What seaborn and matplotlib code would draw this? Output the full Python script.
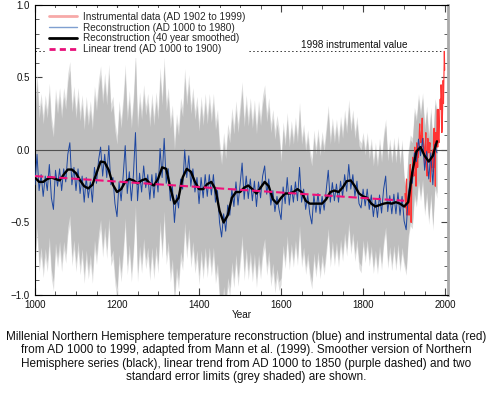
import numpy as np
import matplotlib
matplotlib.use("Agg")
import matplotlib.pyplot as plt
from matplotlib.lines import Line2D
from matplotlib.ticker import MultipleLocator
import seaborn as sns

# reconstruction, 5-year steps AD 1000-1980
recon_years = np.arange(1000, 1981, 5)
recon_values = [
    -0.24, -0.03, -0.28, -0.17, -0.32, -0.18, -0.28, -0.10, -0.33, -0.41,
    -0.14, -0.25, -0.13, -0.28, -0.13, -0.22, -0.03, 0.05, -0.24, -0.12,
    -0.28, -0.13, -0.30, -0.18, -0.36, -0.19, -0.33, -0.22, -0.36, -0.12,
    -0.23, -0.07, 0.02, -0.18, -0.03, -0.19, 0.03, -0.24, -0.19, -0.37,
    -0.46, -0.22, -0.35, -0.18, 0.03, -0.30, -0.15, -0.35, -0.17, 0.12,
    -0.35, -0.16, -0.29, -0.11, -0.26, -0.17, -0.34, -0.17, -0.33, -0.16,
    -0.29, 0.01, -0.19, 0.08, -0.23, -0.13, -0.35, -0.25, -0.50, -0.31,
    -0.40, -0.20, -0.27, 0.00, -0.19, -0.04, -0.25, -0.13, -0.29, -0.19,
    -0.37, -0.19, -0.33, -0.17, -0.32, -0.17, -0.31, -0.17, -0.36, -0.28,
    -0.50, -0.60, -0.44, -0.56, -0.38, -0.45, -0.27, -0.39, -0.22, -0.38,
    -0.24, -0.09, -0.34, -0.18, -0.335, -0.20, -0.35, -0.215, -0.39, -0.22,
    -0.33, -0.18, -0.11, -0.305, -0.20, -0.38, -0.28, -0.425, -0.32, -0.41,
    -0.48, -0.255, -0.37, -0.19, -0.38, -0.245, -0.36, -0.22, -0.35, -0.12,
    -0.36, -0.27, -0.41, -0.31, -0.44, -0.51, -0.31, -0.43, -0.30, -0.44,
    -0.32, -0.415, -0.28, -0.14, -0.36, -0.225, -0.35, -0.235, -0.36, -0.215,
    -0.32, -0.17, -0.285, -0.10, -0.27, -0.17, -0.32, -0.215, -0.37, -0.40,
    -0.27, -0.385, -0.27, -0.41, -0.31, -0.46, -0.34, -0.465, -0.31, -0.435,
    -0.27, -0.18, -0.425, -0.315, -0.44, -0.305, -0.44, -0.295, -0.45, -0.32,
    -0.49, -0.55, -0.31, -0.21, -0.23, -0.02, -0.08, 0.075, -0.04, 0.08,
    -0.14, -0.01, -0.20, -0.02, -0.24, 0.04, -0.02,
]

# 40 year smoothed, 10-year steps
smooth_years = np.arange(1000, 1981, 10)
smooth_values = [
    -0.19, -0.22, -0.22, -0.20, -0.19, -0.20, -0.21, -0.17, -0.135, -0.135,
    -0.16, -0.21, -0.25, -0.265, -0.24, -0.16, -0.08, -0.085, -0.14, -0.24,
    -0.29, -0.27, -0.22, -0.20, -0.21, -0.23, -0.21, -0.20, -0.23, -0.245,
    -0.20, -0.12, -0.13, -0.26, -0.37, -0.33, -0.19, -0.13, -0.15, -0.22,
    -0.27, -0.27, -0.235, -0.22, -0.27, -0.42, -0.50, -0.45, -0.33, -0.29,
    -0.29, -0.26, -0.245, -0.27, -0.30, -0.26, -0.22, -0.25, -0.34, -0.37,
    -0.33, -0.30, -0.30, -0.29, -0.27, -0.29, -0.35, -0.37, -0.37, -0.37,
    -0.37, -0.34, -0.29, -0.28, -0.29, -0.26, -0.215, -0.21, -0.25, -0.30,
    -0.32, -0.33, -0.37, -0.39, -0.38, -0.37, -0.365, -0.37, -0.36, -0.37,
    -0.39, -0.36, -0.15, -0.01, 0.02, -0.04, -0.08, -0.04, 0.06,
]

# instrumental record AD 1902-1999
inst_years = np.arange(1902, 2000)
inst_values = [
    -0.30, -0.35, -0.40, -0.25, -0.20, -0.45, -0.38, -0.40, -0.35, -0.42,
    -0.45, -0.35, -0.15, -0.10, -0.30, -0.50, -0.35, -0.20, -0.22, -0.05,
    -0.18, -0.15, -0.18, -0.05, 0.02, -0.05, -0.02, -0.25, -0.02, 0.05,
    0.02, -0.12, 0.02, -0.05, 0.02, 0.12, 0.18, 0.08, 0.10, 0.05,
    0.12, 0.15, 0.22, 0.05, 0.02, 0.08, 0.02, -0.02, -0.12, 0.02,
    0.05, 0.12, -0.05, -0.10, -0.18, 0.05, 0.08, 0.05, -0.02, 0.05,
    0.02, 0.05, -0.22, -0.15, -0.08, -0.05, -0.12, 0.00, -0.02, -0.15,
    -0.05, 0.15, -0.12, -0.05, -0.25, 0.12, 0.02, 0.08, 0.15, 0.28,
    0.02, 0.28, 0.08, 0.05, 0.15, 0.28, 0.35, 0.28, 0.45, 0.38,
    0.12, 0.18, 0.30, 0.48, 0.32, 0.50, 0.68, 0.55,
]

# linear trend end points
trend_years = [1000, 1900]
trend_values = [-0.18, -0.35]

# two standard error half widths by period start
err_start = [1000, 1600, 1800, 1900]
err_halfwidth = [0.50, 0.40, 0.35, 0.28]

caption = ("Millenial Northern Hemisphere temperature reconstruction (blue) and instrumental data (red)\n"
           "from AD 1000 to 1999, adapted from Mann et al. (1999). Smoother version of Northern\n"
           "Hemisphere series (black), linear trend from AD 1000 to 1850 (purple dashed) and two\n"
           "standard error limits (grey shaded) are shown.")

sns.set_theme(style="ticks")
plt.rcParams['font.family'] = ['Liberation Sans', 'DejaVu Sans']

fig = plt.figure(figsize=(4.92, 3.95), dpi=100)
ax = fig.add_axes([0.0711, 0.2532, 0.8395, 0.7342])

rec = np.array(recon_values)
hw = np.array(err_halfwidth)[np.searchsorted(err_start, recon_years, side='right') - 1]
ax.fill_between(recon_years, rec - hw * 1.12, rec + hw * 1.12, color='#dedede', lw=0, zorder=1)
ax.fill_between(recon_years, rec - hw, rec + hw, color='#bebebe', lw=0, zorder=1)

ax.axhline(0, color='#505050', lw=0.8, zorder=2)

v1998 = inst_values[list(inst_years).index(1998)]
ax.hlines(v1998, recon_years[0], 1998, colors='#333333', lw=0.7,
          linestyles=(0, (1.5, 2.5)), zorder=2)
ax.text(1778, v1998 + 0.012, "1998 instrumental value", ha='center', va='bottom',
        fontsize=7.2, color='#111111')

sns.lineplot(x=inst_years, y=inst_values, ax=ax, color='#ff3333', lw=0.8, zorder=3)
sns.lineplot(x=recon_years, y=recon_values, ax=ax, color='#1d46a0', lw=0.7, zorder=4)
sns.lineplot(x=smooth_years, y=smooth_values, ax=ax, color='black', lw=1.7, zorder=5)
sns.lineplot(x=trend_years, y=trend_values, ax=ax, color='#f0107a', lw=1.5,
             linestyle=(0, (4, 1.8)), zorder=6)

ax.set_xlim(1000, 2007)
ax.set_ylim(-1, 1)
ax.xaxis.set_major_locator(MultipleLocator(200))
ax.xaxis.set_minor_locator(MultipleLocator(50))
ax.yaxis.set_major_locator(MultipleLocator(0.5))
ax.yaxis.set_minor_locator(MultipleLocator(0.1))
ax.tick_params(which='both', direction='in', top=True, right=True, color='#444444',
               labelsize=7, labelcolor='#111111')
ax.tick_params(which='major', length=5, width=0.8)
ax.tick_params(which='minor', length=3, width=0.6)
ax.tick_params(axis='x', pad=3.6)
for s in ax.spines.values():
    s.set_color('black')
    s.set_linewidth(0.8)
ax.spines['right'].set_color('#aaaaaa')
ax.spines['right'].set_linewidth(2)
ax.set_xlabel("Year", fontsize=7.2, labelpad=0, color='#111111')
ax.set_ylabel("")

handles = [
    Line2D([], [], color='#f7a9a8', lw=2),
    Line2D([], [], color='#7f9fd0', lw=1),
    Line2D([], [], color='black', lw=2),
    Line2D([], [], color='#e8107a', lw=2, linestyle=(0, (2.2, 1.5))),
]
labels = ["Instrumental data (AD 1902 to 1999)", "Reconstruction (AD 1000 to 1980)",
          "Reconstruction (40 year smoothed)", "Linear trend (AD 1000 to 1900)"]
ax.legend(handles, labels, loc='upper left', bbox_to_anchor=(0.024, 0.99),
          borderaxespad=0, frameon=True, facecolor='white', edgecolor='none',
          framealpha=1, fancybox=False, fontsize=7.2, handlelength=2.8,
          handletextpad=0.6, labelspacing=0.08, borderpad=0.4)

fig.text(0.5, 0.162, caption, ha='center', va='top', fontsize=8.5, linespacing=1.15,
         color='#111111')

fig.savefig('out.png', dpi=100)
